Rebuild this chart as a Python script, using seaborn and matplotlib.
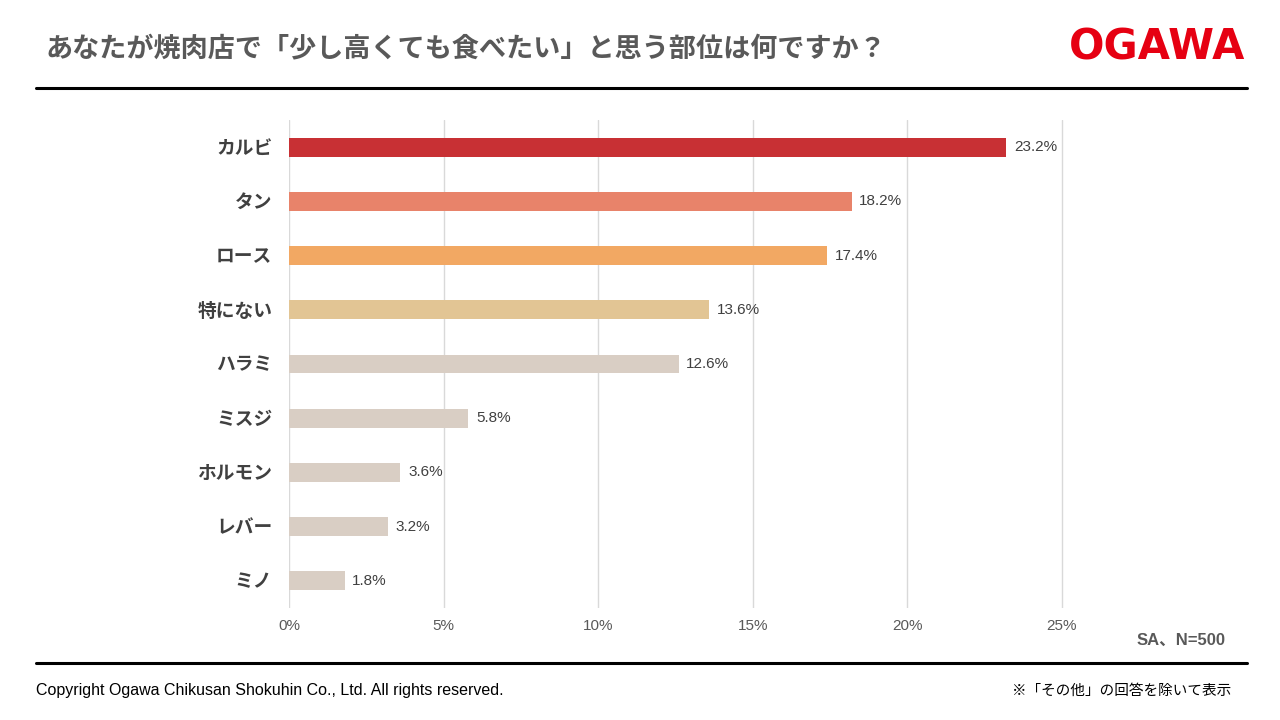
import matplotlib
matplotlib.use("Agg")
import matplotlib.pyplot as plt
import pandas as pd
import seaborn as sns
from matplotlib.lines import Line2D

sns.set_theme(style="white")
plt.rcParams["font.family"] = ["Liberation Sans", "Noto Sans CJK JP", "DejaVu Sans"]

parts = ["カルビ", "タン", "ロース", "特にない", "ハラミ", "ミスジ", "ホルモン", "レバー", "ミノ"]
values = [23.2, 18.2, 17.4, 13.6, 12.6, 5.8, 3.6, 3.2, 1.8]
colors = ["#C83034", "#E8836A", "#F2A863", "#E2C594",
          "#D9CEC4", "#D9CEC4", "#D9CEC4", "#D9CEC4", "#D9CEC4"]
xticks = [0, 5, 10, 15, 20, 25]

df = pd.DataFrame({"part": parts, "value": values})

fig = plt.figure(figsize=(12.8, 7.2), dpi=100)
ax = fig.add_axes([289 / 1280, 1 - 608 / 720, (1064 - 289) / 1280, (608 - 120) / 720])

sns.barplot(data=df, x="value", y="part", hue="part", palette=colors, saturation=1,
            legend=False, width=0.35, linewidth=0, ax=ax, zorder=3)

ax.set_xlim(0, 25.07)
ax.set_xticks(xticks)
ax.set_xticklabels([f"{t}%" for t in xticks], fontsize=11, color="#595959")
ax.tick_params(axis="x", length=0, pad=8)
ax.tick_params(axis="y", length=0, pad=12)
for lab in ax.get_yticklabels():
    lab.set_fontsize(13.5)
    lab.set_fontweight("bold")
    lab.set_color("#404040")
ax.grid(axis="x", color="#D9D9D9", linewidth=1, zorder=0)
ax.set_xlabel("")
ax.set_ylabel("")
for s in ax.spines.values():
    s.set_visible(False)

for i, v in enumerate(values):
    ax.text(v + 0.25, i, f"{v}%", va="center", ha="left", fontsize=11, color="#404040")

fig.text(45 / 1280, 1 - 50 / 720, "あなたが焼肉店で「少し高くても食べたい」と思う部位は何ですか？",
         fontsize=19.5, fontweight="bold", color="#595959", va="center", ha="left")
fig.text(1245 / 1280, 1 - 48 / 720, "OGAWA", fontsize=30, fontweight="heavy",
         color="#E60012", va="center", ha="right", family=["DejaVu Sans"])

fig.add_artist(Line2D([36 / 1280, 1247 / 1280], [1 - 88 / 720] * 2, color="black", lw=2.2))
fig.add_artist(Line2D([36 / 1280, 1247 / 1280], [1 - 663 / 720] * 2, color="black", lw=2.2))

fig.text(1226 / 1280, 1 - 640 / 720, "SA、N=500", fontsize=12, fontweight="bold",
         color="#595959", ha="right", va="center")
fig.text(36 / 1280, 1 - 691 / 720, "Copyright Ogawa Chikusan Shokuhin Co., Ltd. All rights reserved.",
         fontsize=11.5, color="black", ha="left", va="center")
fig.text(1231 / 1280, 1 - 691 / 720, "※「その他」の回答を除いて表示",
         fontsize=10.5, color="black", ha="right", va="center")

fig.savefig("out.png", dpi=100)
